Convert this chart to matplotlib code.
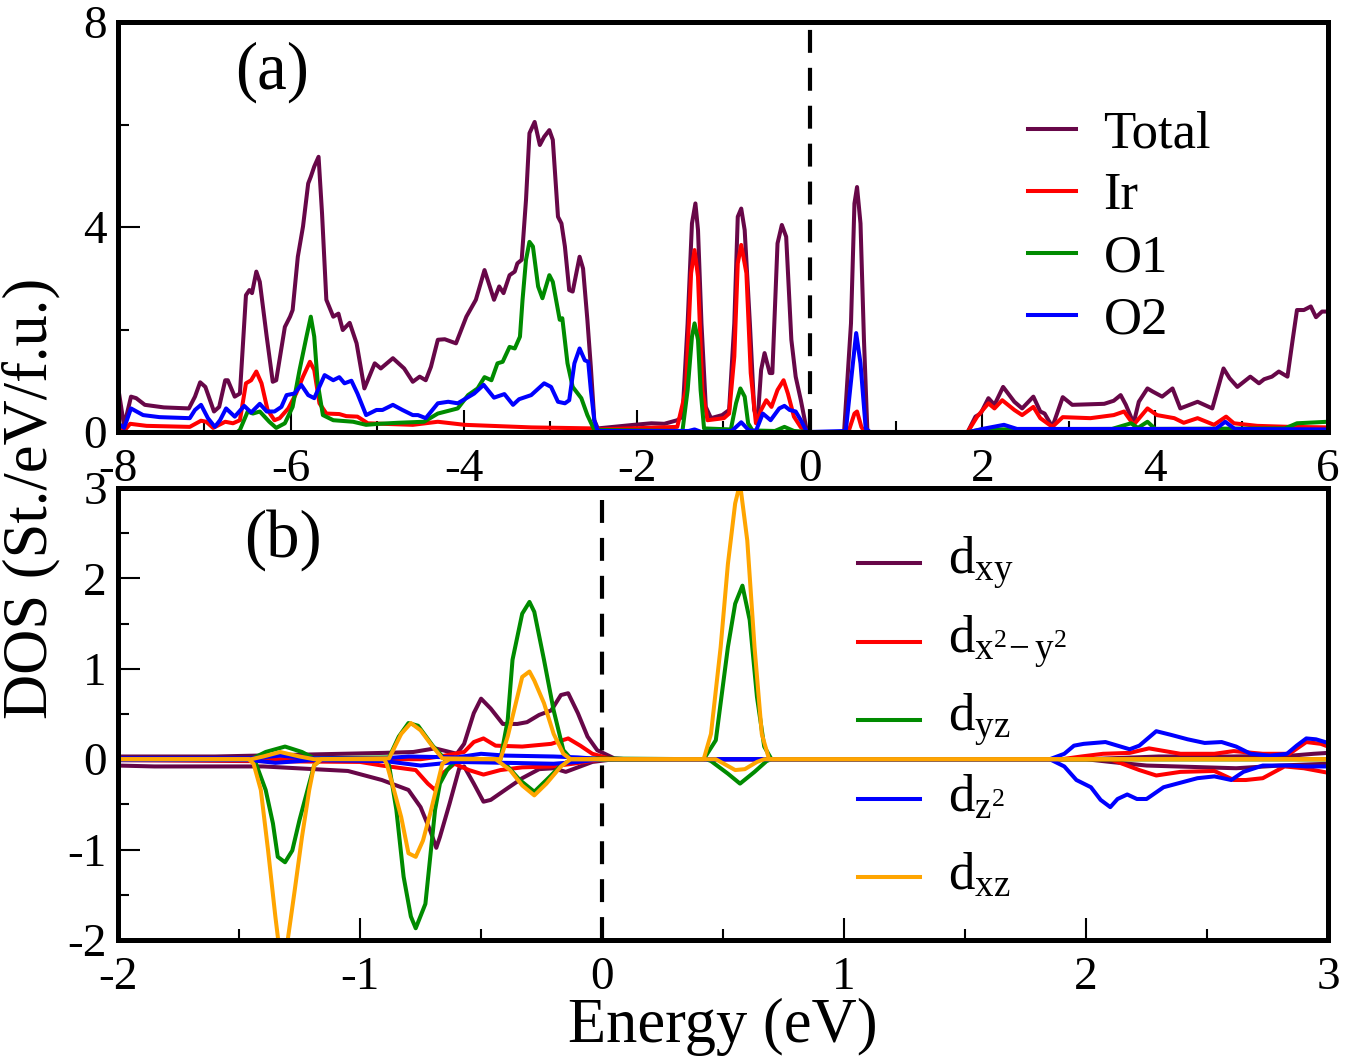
import matplotlib
matplotlib.use("Agg")
import matplotlib.pyplot as plt
from matplotlib.ticker import MultipleLocator
import numpy as np

plt.rcParams.update({
    "font.family": "Liberation Serif",
    "mathtext.fontset": "custom",
    "mathtext.rm": "Liberation Serif",
    "mathtext.it": "Liberation Serif:italic",
    "axes.unicode_minus": False,
})

# ---- panel (a): total / partial DOS, (energy eV, DOS) ----
total = np.array([
    (-8.00, 0.88), (-7.93, 0.12), (-7.85, 0.69), (-7.79, 0.66), (-7.69, 0.53), (-7.47, 0.48),
    (-7.18, 0.46), (-7.11, 0.69), (-7.05, 0.97), (-6.99, 0.88), (-6.89, 0.40), (-6.83, 0.49),
    (-6.76, 1.01), (-6.73, 1.01), (-6.65, 0.69), (-6.59, 0.75), (-6.52, 2.67), (-6.48, 2.77),
    (-6.45, 2.71), (-6.40, 3.13), (-6.36, 2.93), (-6.28, 1.86), (-6.21, 0.98), (-6.17, 1.01),
    (-6.07, 2.05), (-6.01, 2.25), (-5.98, 2.38), (-5.92, 3.42), (-5.86, 4.01), (-5.80, 4.85),
    (-5.77, 4.98), (-5.73, 5.18), (-5.68, 5.37), (-5.64, 4.27), (-5.59, 2.58), (-5.51, 2.25),
    (-5.45, 2.31), (-5.40, 1.99), (-5.32, 2.13), (-5.24, 1.73), (-5.15, 0.85), (-5.03, 1.34),
    (-4.96, 1.24), (-4.82, 1.44), (-4.69, 1.24), (-4.59, 0.98), (-4.51, 1.08), (-4.44, 1.01),
    (-4.38, 1.27), (-4.30, 1.80), (-4.22, 1.81), (-4.09, 1.73), (-3.97, 2.25), (-3.86, 2.58),
    (-3.76, 3.16), (-3.65, 2.58), (-3.59, 2.84), (-3.54, 2.71), (-3.47, 3.06), (-3.41, 3.13),
    (-3.38, 3.29), (-3.33, 3.36), (-3.28, 4.53), (-3.24, 5.83), (-3.18, 6.05), (-3.12, 5.60),
    (-3.07, 5.76), (-3.01, 5.89), (-2.97, 5.70), (-2.91, 4.20), (-2.87, 4.07), (-2.83, 3.62),
    (-2.78, 2.77), (-2.74, 2.74), (-2.66, 3.42), (-2.62, 3.19), (-2.57, 2.19), (-2.53, 1.27),
    (-2.49, 0.23), (-2.45, 0.07), (-2.03, 0.14), (-1.83, 0.17), (-1.68, 0.16), (-1.53, 0.23),
    (-1.47, 0.30), (-1.41, 2.12), (-1.36, 4.07), (-1.32, 4.46), (-1.29, 3.94), (-1.25, 2.12),
    (-1.20, 0.49), (-1.14, 0.27), (-1.01, 0.33), (-0.93, 0.43), (-0.87, 2.12), (-0.83, 4.20),
    (-0.79, 4.36), (-0.75, 3.94), (-0.69, 2.12), (-0.64, 0.43), (-0.60, 0.23), (-0.56, 1.21),
    (-0.52, 1.54), (-0.46, 1.15), (-0.43, 1.15), (-0.37, 3.68), (-0.32, 4.04), (-0.27, 3.81),
    (-0.21, 1.80), (-0.16, 1.08), (-0.10, 0.62), (-0.04, 0.10), (0.00, 0.00), (0.40, 0.00),
    (0.48, 2.12), (0.52, 4.46), (0.55, 4.78), (0.59, 4.07), (0.63, 1.80), (0.67, 0.00),
    (1.83, 0.00), (1.92, 0.30), (1.98, 0.36), (2.07, 0.66), (2.14, 0.53), (2.24, 0.88),
    (2.37, 0.59), (2.46, 0.46), (2.59, 0.69), (2.67, 0.40), (2.72, 0.36), (2.81, 0.10),
    (2.93, 0.68), (3.04, 0.53), (3.41, 0.55), (3.52, 0.61), (3.60, 0.72), (3.66, 0.53),
    (3.75, 0.17), (3.81, 0.59), (3.91, 0.85), (3.97, 0.79), (4.08, 0.69), (4.20, 0.85),
    (4.29, 0.46), (4.49, 0.59), (4.66, 0.46), (4.79, 1.24), (4.86, 1.05), (4.95, 0.88),
    (5.10, 1.08), (5.20, 0.95), (5.26, 1.03), (5.35, 1.08), (5.43, 1.18), (5.53, 1.08),
    (5.59, 1.80), (5.64, 2.38), (5.72, 2.38), (5.80, 2.45), (5.86, 2.24), (5.93, 2.35),
    (6.00, 2.35),
])
ir = np.array([
    (-8.00, 0.10), (-7.93, 0.02), (-7.86, 0.16), (-7.67, 0.12), (-7.17, 0.10), (-7.04, 0.22),
    (-6.98, 0.20), (-6.90, 0.08), (-6.76, 0.20), (-6.67, 0.17), (-6.59, 0.23), (-6.52, 0.95),
    (-6.46, 1.01), (-6.40, 1.18), (-6.34, 0.95), (-6.27, 0.43), (-6.19, 0.23), (-6.13, 0.27),
    (-6.03, 0.46), (-5.94, 0.75), (-5.86, 1.08), (-5.78, 1.37), (-5.73, 1.21), (-5.67, 0.56),
    (-5.59, 0.36), (-5.44, 0.35), (-5.36, 0.31), (-5.23, 0.30), (-5.11, 0.17), (-4.59, 0.14),
    (-4.30, 0.20), (-3.99, 0.14), (-3.22, 0.09), (-2.50, 0.07), (-2.45, 0.05), (-1.53, 0.10),
    (-1.43, 0.82), (-1.37, 3.10), (-1.33, 3.55), (-1.29, 3.03), (-1.24, 0.82), (-1.18, 0.23),
    (-0.99, 0.27), (-0.93, 0.36), (-0.87, 1.47), (-0.83, 3.29), (-0.79, 3.65), (-0.73, 3.10),
    (-0.68, 1.15), (-0.62, 0.17), (-0.56, 0.43), (-0.50, 0.62), (-0.44, 0.49), (-0.37, 0.82),
    (-0.30, 1.01), (-0.25, 0.75), (-0.18, 0.30), (-0.10, 0.09), (0.00, 0.00), (0.45, 0.00),
    (0.52, 0.36), (0.55, 0.40), (0.60, 0.10), (0.64, 0.00), (1.83, 0.00), (1.94, 0.30),
    (2.07, 0.56), (2.14, 0.46), (2.23, 0.62), (2.37, 0.43), (2.46, 0.33), (2.59, 0.49),
    (2.67, 0.27), (2.81, 0.10), (2.93, 0.29), (3.25, 0.27), (3.52, 0.33), (3.64, 0.40),
    (3.75, 0.14), (3.91, 0.46), (4.02, 0.33), (4.22, 0.27), (4.33, 0.18), (4.49, 0.27),
    (4.68, 0.14), (4.82, 0.30), (4.91, 0.17), (5.18, 0.12), (5.56, 0.10), (6.00, 0.09),
])
o1 = np.array([
    (-8.00, 0.00), (-6.62, 0.00), (-6.59, 0.04), (-6.50, 0.40), (-6.44, 0.36), (-6.36, 0.40),
    (-6.25, 0.20), (-6.17, 0.08), (-6.07, 0.17), (-5.98, 0.49), (-5.90, 1.21), (-5.82, 1.86),
    (-5.77, 2.25), (-5.73, 1.86), (-5.69, 0.95), (-5.63, 0.33), (-5.51, 0.23), (-5.28, 0.20),
    (-5.13, 0.14), (-4.98, 0.16), (-4.76, 0.18), (-4.46, 0.20), (-4.30, 0.36), (-4.07, 0.46),
    (-3.95, 0.72), (-3.84, 0.85), (-3.76, 1.07), (-3.68, 1.01), (-3.61, 1.34), (-3.55, 1.37),
    (-3.47, 1.66), (-3.41, 1.63), (-3.35, 1.86), (-3.32, 2.58), (-3.28, 3.36), (-3.24, 3.71),
    (-3.20, 3.62), (-3.14, 2.84), (-3.09, 2.61), (-3.01, 3.06), (-2.97, 2.93), (-2.89, 2.19),
    (-2.86, 2.22), (-2.80, 1.34), (-2.74, 0.88), (-2.64, 0.66), (-2.57, 0.33), (-2.49, 0.04),
    (-1.47, 0.02), (-1.41, 0.82), (-1.36, 1.86), (-1.33, 2.12), (-1.29, 1.80), (-1.26, 0.82),
    (-1.22, 0.07), (-0.91, 0.05), (-0.85, 0.56), (-0.80, 0.85), (-0.75, 0.69), (-0.71, 0.17),
    (-0.66, 0.03), (-0.40, 0.02), (-0.29, 0.10), (-0.18, 0.02), (0.00, 0.00), (1.83, 0.00),
    (2.00, 0.05), (3.50, 0.06), (3.72, 0.17), (3.80, 0.08), (3.91, 0.20), (4.00, 0.06),
    (5.50, 0.07), (5.64, 0.17), (6.00, 0.20),
])
o2 = np.array([
    (-8.00, 0.17), (-7.93, 0.08), (-7.85, 0.46), (-7.71, 0.33), (-7.52, 0.29), (-7.17, 0.27),
    (-7.11, 0.43), (-7.04, 0.53), (-6.96, 0.27), (-6.88, 0.10), (-6.82, 0.23), (-6.75, 0.46),
    (-6.65, 0.30), (-6.54, 0.51), (-6.46, 0.38), (-6.36, 0.55), (-6.28, 0.40), (-6.19, 0.40),
    (-6.11, 0.49), (-6.05, 0.72), (-5.96, 0.75), (-5.88, 0.92), (-5.80, 0.72), (-5.73, 0.66),
    (-5.61, 1.11), (-5.51, 1.01), (-5.44, 1.07), (-5.38, 0.95), (-5.30, 1.00), (-5.23, 0.75),
    (-5.13, 0.33), (-5.01, 0.43), (-4.94, 0.43), (-4.82, 0.53), (-4.71, 0.43), (-4.59, 0.33),
    (-4.53, 0.33), (-4.44, 0.27), (-4.30, 0.56), (-4.18, 0.59), (-4.07, 0.56), (-3.88, 0.75),
    (-3.77, 0.92), (-3.65, 0.67), (-3.53, 0.74), (-3.43, 0.53), (-3.36, 0.64), (-3.22, 0.72),
    (-3.07, 0.95), (-2.99, 0.88), (-2.91, 0.59), (-2.83, 0.56), (-2.78, 0.62), (-2.72, 1.34),
    (-2.66, 1.63), (-2.60, 1.40), (-2.56, 1.37), (-2.53, 0.82), (-2.49, 0.23), (-2.45, 0.02),
    (-1.40, 0.02), (-1.33, 0.05), (-1.25, 0.00), (-0.90, 0.02), (-0.79, 0.19), (-0.70, 0.03),
    (-0.62, 0.02), (-0.54, 0.36), (-0.45, 0.23), (-0.35, 0.46), (-0.29, 0.51), (-0.23, 0.43),
    (-0.16, 0.40), (-0.10, 0.23), (-0.04, 0.03), (0.00, 0.00), (0.42, 0.02), (0.49, 1.15),
    (0.54, 1.93), (0.59, 1.34), (0.65, 0.07), (0.70, 0.00), (1.85, 0.00), (2.00, 0.06),
    (2.25, 0.14), (2.40, 0.06), (4.70, 0.06), (4.81, 0.20), (4.92, 0.06), (6.00, 0.05),
])

# ---- panel (b): Ir d-orbital DOS, spin up (>0) and spin down (<0) ----
dxy_up = np.array([
    (-2.00, 0.03), (-1.60, 0.03), (-1.25, 0.05), (-0.90, 0.07), (-0.78, 0.08), (-0.69, 0.12),
    (-0.60, 0.06), (-0.57, 0.17), (-0.53, 0.51), (-0.50, 0.67), (-0.46, 0.56), (-0.41, 0.39),
    (-0.35, 0.39), (-0.31, 0.41), (-0.26, 0.49), (-0.21, 0.54), (-0.17, 0.71), (-0.14, 0.73),
    (-0.10, 0.51), (-0.06, 0.25), (-0.02, 0.10), (0.05, 0.01), (0.10, 0.00), (2.00, 0.00),
    (2.30, 0.03), (2.60, 0.03), (2.85, 0.04), (2.94, 0.06), (3.00, 0.07),
])
dxy_dn = np.array([
    (-2.00, -0.07), (-1.85, -0.08), (-1.40, -0.08), (-1.05, -0.13), (-0.91, -0.23), (-0.80, -0.34),
    (-0.75, -0.53), (-0.71, -0.79), (-0.685, -0.98), (-0.67, -0.86), (-0.63, -0.49), (-0.59, -0.10),
    (-0.57, -0.08), (-0.53, -0.27), (-0.49, -0.47), (-0.46, -0.45), (-0.39, -0.32), (-0.33, -0.21),
    (-0.26, -0.11), (-0.20, -0.10), (-0.15, -0.14), (-0.09, -0.08), (-0.04, -0.03), (0.05, 0.00),
    (2.00, 0.00), (2.10, -0.03), (2.25, -0.07), (2.62, -0.10), (2.80, -0.07), (3.00, -0.05),
])
dx2y2_up = np.array([
    (-2.00, 0.00), (-0.75, 0.00), (-0.67, 0.03), (-0.57, 0.08), (-0.53, 0.19), (-0.49, 0.23),
    (-0.44, 0.15), (-0.33, 0.14), (-0.21, 0.17), (-0.14, 0.23), (-0.09, 0.15), (-0.04, 0.06),
    (0.04, 0.00), (1.90, 0.00), (1.98, 0.03), (2.07, 0.06), (2.18, 0.07), (2.26, 0.12),
    (2.39, 0.06), (2.53, 0.06), (2.61, 0.09), (2.73, 0.06), (2.84, 0.06), (2.91, 0.19),
    (2.97, 0.17), (3.00, 0.14),
])
dx2y2_dn = np.array([
    (-2.00, -0.01), (-1.00, -0.03), (-0.91, -0.07), (-0.77, -0.12), (-0.72, -0.27), (-0.69, -0.34),
    (-0.66, -0.16), (-0.61, -0.05), (-0.55, -0.12), (-0.49, -0.17), (-0.42, -0.12), (-0.33, -0.09),
    (-0.21, -0.08), (-0.12, -0.05), (-0.02, -0.01), (0.05, 0.00), (2.10, 0.00), (2.22, -0.12),
    (2.29, -0.18), (2.39, -0.14), (2.53, -0.13), (2.61, -0.23), (2.66, -0.23), (2.73, -0.21),
    (2.82, -0.08), (2.90, -0.10), (3.00, -0.15),
])
dyz_up = np.array([
    (-2.00, 0.00), (-1.45, 0.00), (-1.39, 0.08), (-1.31, 0.14), (-1.24, 0.08), (-1.19, 0.01),
    (-0.88, 0.02), (-0.84, 0.25), (-0.80, 0.40), (-0.76, 0.37), (-0.70, 0.15), (-0.65, 0.00),
    (-0.42, 0.00), (-0.39, 0.43), (-0.37, 1.10), (-0.33, 1.61), (-0.30, 1.74), (-0.28, 1.63),
    (-0.24, 1.10), (-0.20, 0.54), (-0.16, 0.10), (-0.13, 0.01), (0.42, 0.00), (0.47, 0.21),
    (0.52, 1.24), (0.55, 1.72), (0.58, 1.92), (0.61, 1.54), (0.64, 0.69), (0.67, 0.14),
    (0.70, 0.00), (3.00, 0.00),
])
dyz_dn = np.array([
    (-2.00, 0.00), (-1.45, 0.00), (-1.43, -0.05), (-1.39, -0.34), (-1.36, -0.71), (-1.34, -1.08),
    (-1.31, -1.14), (-1.28, -1.01), (-1.25, -0.67), (-1.21, -0.27), (-1.19, -0.07), (-1.16, 0.00),
    (-0.90, 0.00), (-0.88, -0.07), (-0.85, -0.56), (-0.82, -1.30), (-0.79, -1.74), (-0.77, -1.87),
    (-0.73, -1.60), (-0.71, -1.08), (-0.69, -0.56), (-0.67, -0.27), (-0.64, -0.12), (-0.61, -0.03),
    (-0.44, 0.00), (-0.39, -0.08), (-0.34, -0.23), (-0.28, -0.36), (-0.23, -0.23), (-0.17, -0.07),
    (-0.13, -0.01), (0.43, 0.00), (0.45, -0.02), (0.52, -0.16), (0.57, -0.27), (0.63, -0.14),
    (0.68, -0.02), (0.70, 0.00), (3.00, 0.00),
])
dz2_up = np.array([
    (-2.00, 0.01), (-1.45, 0.01), (-1.33, 0.04), (-1.20, 0.01), (-0.90, 0.01), (-0.80, 0.03),
    (-0.60, 0.02), (-0.50, 0.06), (-0.40, 0.04), (-0.20, 0.03), (-0.10, 0.02), (0.00, 0.00),
    (1.85, 0.00), (1.91, 0.06), (1.95, 0.15), (1.99, 0.17), (2.08, 0.19), (2.13, 0.15),
    (2.18, 0.11), (2.22, 0.15), (2.29, 0.31), (2.35, 0.27), (2.42, 0.22), (2.49, 0.18),
    (2.56, 0.19), (2.62, 0.14), (2.68, 0.06), (2.76, 0.04), (2.83, 0.06), (2.87, 0.15),
    (2.91, 0.23), (2.95, 0.22), (3.00, 0.18),
])
dz2_dn = np.array([
    (-2.00, -0.01), (-1.45, -0.01), (-1.35, -0.04), (-1.20, -0.01), (-0.90, -0.02), (-0.75, -0.07),
    (-0.60, -0.03), (-0.40, -0.04), (-0.20, -0.05), (-0.10, -0.03), (0.00, 0.00), (1.85, 0.00),
    (1.91, -0.08), (1.96, -0.23), (2.02, -0.31), (2.06, -0.45), (2.10, -0.53), (2.13, -0.44),
    (2.17, -0.39), (2.21, -0.44), (2.25, -0.44), (2.32, -0.31), (2.39, -0.26), (2.46, -0.21),
    (2.53, -0.19), (2.60, -0.23), (2.65, -0.14), (2.73, -0.07), (2.84, -0.07), (2.91, -0.08),
    (3.00, -0.08),
])
dxz_up = np.array([
    (-2.00, 0.00), (-1.45, 0.00), (-1.40, 0.03), (-1.33, 0.08), (-1.25, 0.03), (-1.19, 0.00),
    (-0.88, 0.01), (-0.83, 0.28), (-0.79, 0.40), (-0.75, 0.32), (-0.70, 0.14), (-0.66, 0.01),
    (-0.42, 0.00), (-0.39, 0.25), (-0.35, 0.69), (-0.33, 0.91), (-0.30, 0.97), (-0.28, 0.87),
    (-0.24, 0.62), (-0.20, 0.28), (-0.16, 0.06), (-0.13, 0.00), (0.42, 0.00), (0.45, 0.28),
    (0.49, 1.24), (0.52, 2.16), (0.55, 2.83), (0.57, 3.05), (0.60, 2.42), (0.63, 1.24),
    (0.66, 0.28), (0.69, 0.00), (3.00, 0.00),
])
dxz_dn = np.array([
    (-2.00, 0.00), (-1.46, 0.00), (-1.44, -0.05), (-1.41, -0.34), (-1.38, -1.01), (-1.35, -1.74),
    (-1.32, -2.40), (-1.27, -1.45), (-1.24, -0.86), (-1.21, -0.34), (-1.19, -0.07), (-1.16, 0.00),
    (-0.90, 0.00), (-0.89, -0.05), (-0.86, -0.34), (-0.83, -0.64), (-0.80, -1.04), (-0.77, -1.08),
    (-0.74, -0.90), (-0.71, -0.60), (-0.68, -0.27), (-0.66, -0.05), (-0.63, 0.00), (-0.44, 0.00),
    (-0.38, -0.12), (-0.33, -0.29), (-0.28, -0.40), (-0.23, -0.27), (-0.17, -0.08), (-0.13, 0.00),
    (0.47, 0.00), (0.49, -0.03), (0.55, -0.12), (0.59, -0.11), (0.64, -0.03), (0.67, 0.00),
    (3.00, 0.00),
])

MAROON, RED, GREEN, BLUE, ORANGE = "#670748", "#ff0000", "#008b00", "#0000ff", "#ffa500"
LW = 2.9

fig = plt.figure(figsize=(13.46, 10.63), dpi=100)
ax1 = fig.add_axes([0.0877, 0.5936, 0.899, 0.3857])
ax2 = fig.add_axes([0.0877, 0.1157, 0.899, 0.4252])

for arr, c, lab in [(total, MAROON, "Total"), (ir, RED, "Ir"), (o1, GREEN, "O1"), (o2, BLUE, "O2")]:
    ax1.plot(arr[:, 0], arr[:, 1], color=c, lw=LW, label=lab)

orbitals = [
    (dxy_up, dxy_dn, MAROON, r"d$_{\mathrm{xy}}$"),
    (dx2y2_up, dx2y2_dn, RED, r"d$_{\mathrm{x^2\!-y^2}}$"),
    (dyz_up, dyz_dn, GREEN, r"d$_{\mathrm{yz}}$"),
    (dz2_up, dz2_dn, BLUE, r"d$_{\mathrm{z^2}}$"),
    (dxz_up, dxz_dn, ORANGE, r"d$_{\mathrm{xz}}$"),
]
for up, dn, c, lab in orbitals:
    ax2.plot(up[:, 0], up[:, 1], color=c, lw=LW)
    ax2.plot(dn[:, 0], dn[:, 1], color=c, lw=LW)

for ax in (ax1, ax2):
    ax.axvline(0, color="k", lw=3, dashes=(5.5, 3.6))
    for s in ax.spines.values():
        s.set_linewidth(3.6)
    ax.tick_params(which="both", direction="in", top=False, right=False, width=1.5, labelsize=34)
    ax.tick_params(which="major", length=16)
    ax.tick_params(which="minor", length=8)
    ax.tick_params(axis="x", pad=12)
    ax.tick_params(axis="y", pad=8)

ax1.set_xlim(-8, 6); ax1.set_ylim(0, 8)
ax1.set_xticks(np.arange(-8, 7, 2)); ax1.xaxis.set_minor_locator(MultipleLocator(1))
ax1.set_yticks([0, 4, 8]); ax1.yaxis.set_minor_locator(MultipleLocator(2))

ax2.set_xlim(-2, 3); ax2.set_ylim(-2, 3)
ax2.set_xticks(np.arange(-2, 4, 1)); ax2.xaxis.set_minor_locator(MultipleLocator(0.5))
ax2.set_yticks(np.arange(-2, 4, 1)); ax2.yaxis.set_minor_locator(MultipleLocator(0.5))

ax1.text(0.127, 0.878, "(a)", transform=ax1.transAxes, fontsize=48, ha="center", va="center")
ax2.text(0.136, 0.885, "(b)", transform=ax2.transAxes, fontsize=48, ha="center", va="center")

ax1.legend(loc="upper left", bbox_to_anchor=(0.752, 0.785), frameon=False, fontsize=38,
           handlelength=0.9, handletextpad=0.53, labelspacing=0.27, borderpad=0, borderaxespad=0)

# panel (b) key: evenly spaced rows like the original
for i, (up, dn, c, lab) in enumerate(orbitals):
    yk = 0.834 - i * 0.1737
    ax2.plot([0.6116, 0.6628], [yk, yk], transform=ax2.transAxes, color=c, lw=LW)
    ax2.text(0.686, yk, lab, transform=ax2.transAxes, fontsize=38, ha="left", va="center")

fig.text(0.023, 0.531, "DOS (St./eV/f.u.)", rotation=90, ha="center", va="center", fontsize=45)
fig.text(0.537, 0.034, "Energy (eV)", ha="center", va="center", fontsize=45)

fig.savefig("out.png", dpi=100)
